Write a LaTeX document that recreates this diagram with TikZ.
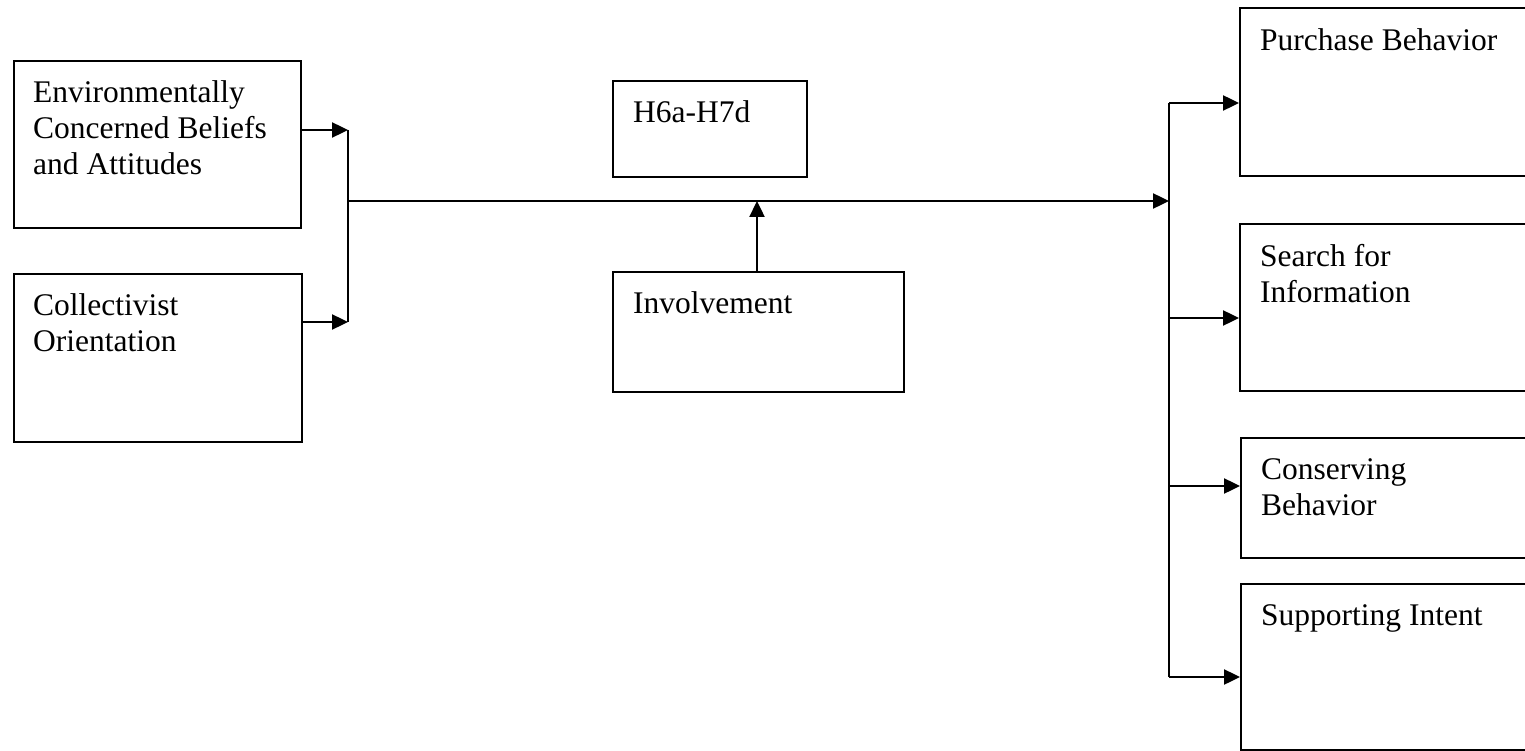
\documentclass[tikz,border=0pt]{standalone}
\usepackage{fontspec}
\setmainfont{Liberation Serif}
\usetikzlibrary{arrows.meta}
\begin{document}
\begin{tikzpicture}[x=1pt,y=-1pt,
  box/.style={draw, line width=2.4pt, rectangle, inner sep=0pt, anchor=north west},
  txt/.style={anchor=north west, inner sep=0pt, align=left, font=\fontsize{31.5}{36}\selectfont},
  conn/.style={line width=2.4pt},
  arr/.style={conn, -{Triangle[length=16pt,width=15pt]}}]
\useasboundingbox (0,0) rectangle (1525,751);
% left boxes
\node[box, minimum width=287pt, minimum height=167pt] (ecb) at (13,60) {};
\node[box, minimum width=288pt, minimum height=168pt] (co) at (13,273) {};
\node[txt] (ecbt) at (33,80) {Environmentally\\Concerned Beliefs\\and Attitudes};
\node[txt] (cot) at (33,293) {Collectivist\\Orientation};
% middle boxes
\node[box, minimum width=194pt, minimum height=96pt] (h6) at (612,80) {};
\node[txt] (h6t) at (633,100) {H6a-H7d};
\node[box, minimum width=291pt, minimum height=120pt] (inv) at (612,271) {};
\node[txt] (invt) at (633,291) {Involvement};
% right boxes
\node[box, minimum width=300pt, minimum height=168pt] (pb) at (1239,7) {};
\node[txt] (pbt) at (1260,28) {Purchase Behavior};
\node[box, minimum width=300pt, minimum height=167pt] (sfi) at (1239,223) {};
\node[txt] (sfit) at (1260,244) {Search for\\Information};
\node[box, minimum width=300pt, minimum height=120pt] (cb) at (1240,437) {};
\node[txt] (cbt) at (1261,458) {Conserving\\Behavior};
\node[box, minimum width=300pt, minimum height=166pt] (si) at (1240,583) {};
\node[txt] (sit) at (1261,604) {Supporting Intent};
% junction coordinates
\coordinate (jlt) at (348,130);
\coordinate (jlb) at (348,322);
\coordinate (jlm) at (348,201);
\coordinate (jrm) at (1169,201);
\coordinate (jr1) at (1169,103);
\coordinate (jr2) at (1169,318);
\coordinate (jr3) at (1169,486);
\coordinate (jr4) at (1169,677);
\coordinate (invm) at (757,201);
% connectors
\draw[arr] (ecb.east |- jlt) -- (jlt);
\draw[arr] (co.east |- jlb) -- (jlb);
\draw[conn] (jlt) -- (jlb);
\draw[arr] (jlm) -- (jrm);
\draw[arr] (inv.north -| invm) -- (invm);
\draw[conn] (jr1) -- (jr4);
\draw[arr] (jr1) -- (pb.west |- jr1);
\draw[arr] (jr2) -- (sfi.west |- jr2);
\draw[arr] (jr3) -- (cb.west |- jr3);
\draw[arr] (jr4) -- (si.west |- jr4);
\end{tikzpicture}
\end{document}
